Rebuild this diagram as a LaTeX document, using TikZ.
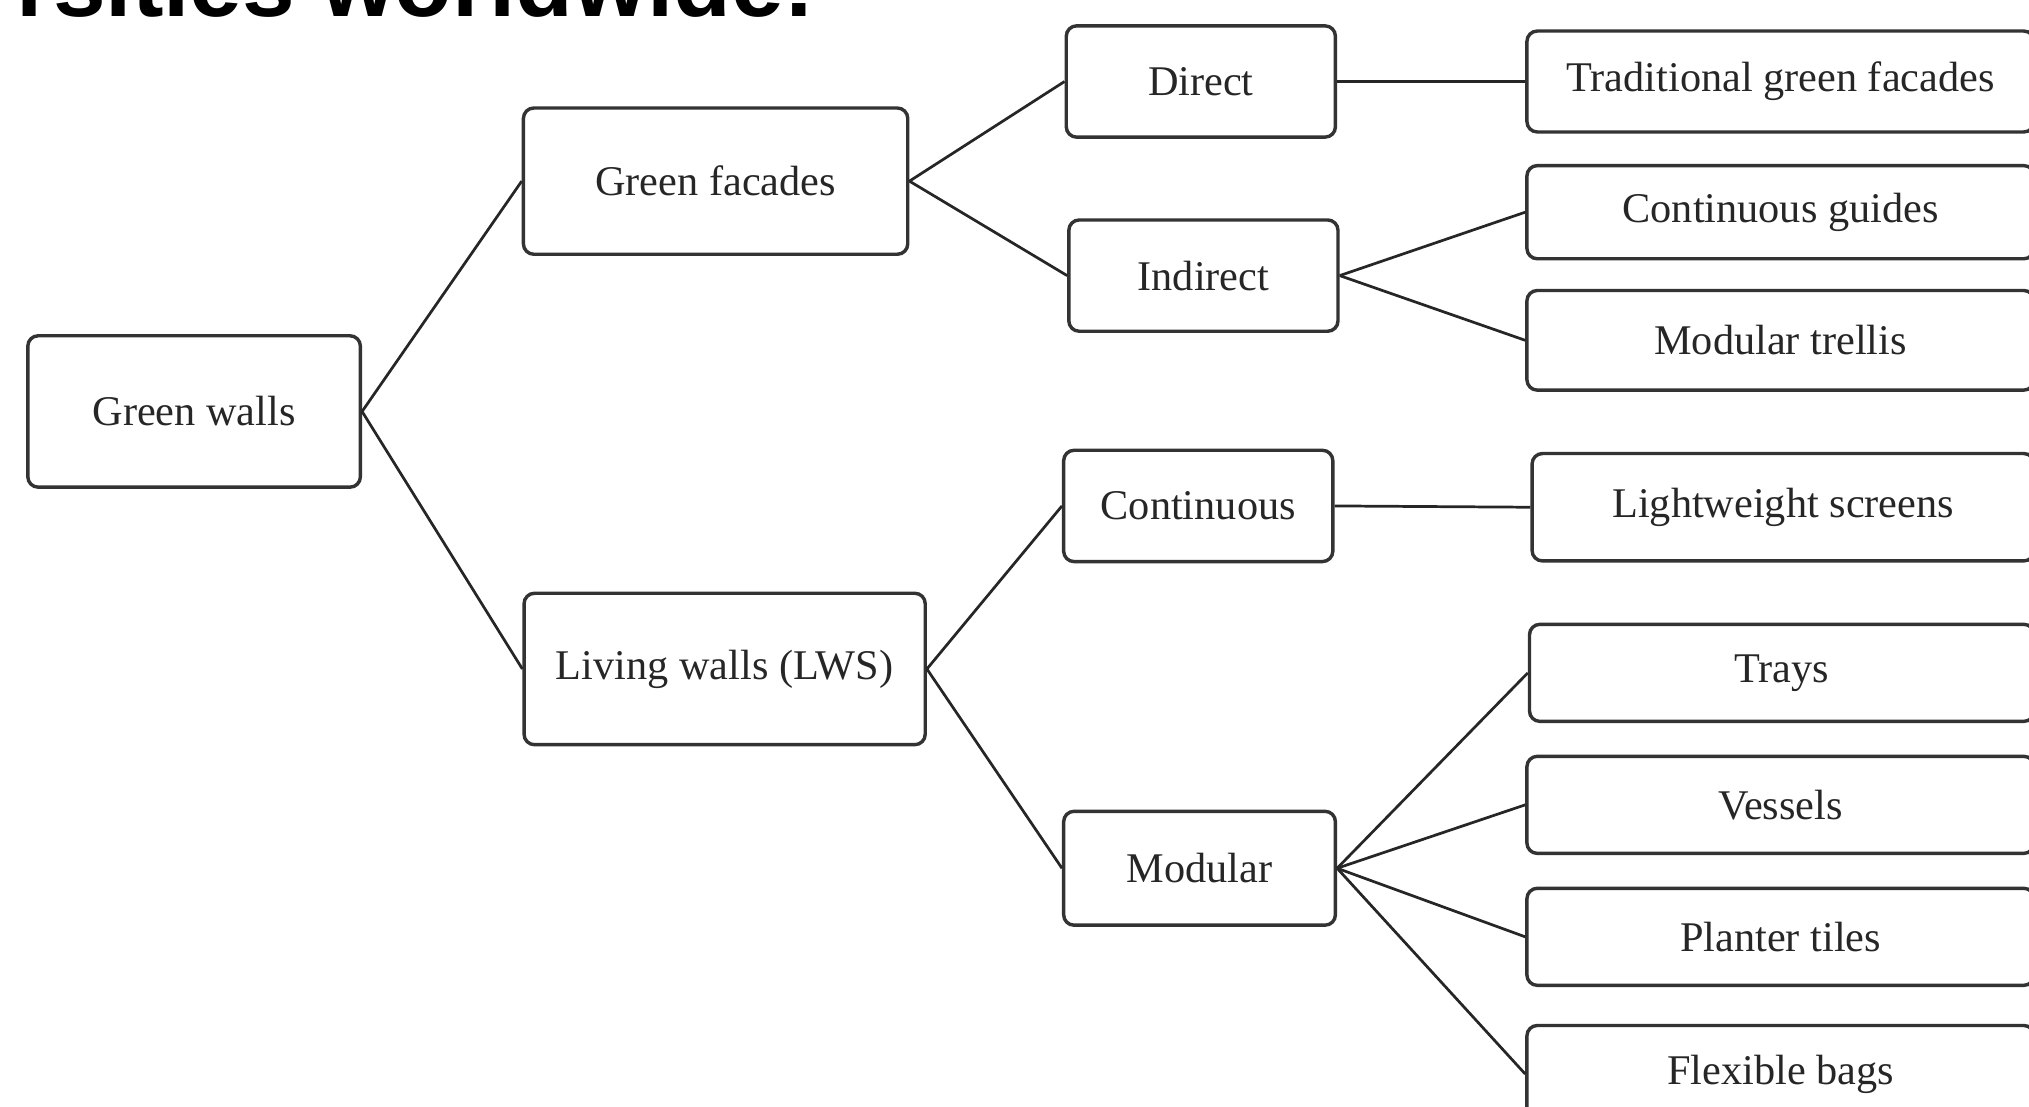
\documentclass[tikz,border=0pt]{standalone}
\usepackage{fontspec}
\setmainfont{Liberation Serif}
\newfontfamily\headfont{Liberation Sans}
\begin{document}
\begin{tikzpicture}[x=0.1mm,y=-0.1mm,
    box/.style={draw=black!80,line width=0.75pt,rounded corners=0.8mm,inner sep=0pt,
      align=center,text=black!85,font=\fontsize{9.3}{11}\selectfont},
    rootbox/.style={box,minimum width=25.7mm,minimum height=11.7mm},
    typebox/.style={box,minimum width=30mm,minimum height=11.5mm},
    kindbox/.style={box,minimum width=20.8mm,minimum height=8.6mm},
    leafbox/.style={box,minimum width=39.2mm,minimum height=7.6mm},
    link/.style={draw=black!85,line width=0.6pt},
  ]
    \useasboundingbox (0,0) rectangle (1568,855);
    \clip (0,0) rectangle (1568,855);

    % heading, cut off by the page
    \node [anchor=base west,inner sep=0pt,font=\headfont\bfseries\fontsize{20.8}{21}\selectfont,name=head] at (12,12.5) {rsities worldwide:};

    % root and first split
    \node [rootbox] (gw) at (150,318) {Green walls};
    \node [typebox,minimum width=29.7mm,minimum height=11.3mm] (gf) at (553,140) {Green facades};
    \node [typebox,minimum width=31mm,minimum height=11.7mm] (lw) at (560,517) {Living walls (LWS)};
    \draw [link] (gw.east) -- (gf.west);
    \draw [link] (gw.east) -- (lw.west);

    % green facades
    \node [kindbox] (di) at (928,63) {Direct};
    \node [kindbox] (in) at (930,213) {Indirect};
    \draw [link] (gf.east) -- (di.west);
    \draw [link] (gf.east) -- (in.west);
    \node [leafbox,minimum height=7.8mm] (tg) at (1376,63) {Traditional green facades};
    \node [leafbox,minimum height=7.2mm] (cg) at (1376,164) {Continuous guides};
    \node [leafbox,minimum height=7.7mm] (mt) at (1376,263) {Modular trellis};
    \draw [link] (di.east) -- (tg.west);
    \draw [link] (in.east) -- (cg.west);
    \draw [link] (in.east) -- (mt.west);

    % living walls
    \node [kindbox] (co) at (926,391) {Continuous};
    \node [kindbox,minimum width=21mm,minimum height=8.8mm] (mo) at (927,671) {Modular};
    \draw [link] (lw.east) -- (co.west);
    \draw [link] (lw.east) -- (mo.west);
    \node [leafbox,minimum width=38.8mm,minimum height=8.3mm] (ls) at (1378,392) {Lightweight screens};
    \node [leafbox,minimum width=39mm,minimum height=7.5mm] (tr) at (1377,520) {Trays};
    \node [leafbox,minimum height=7.5mm] (ve) at (1376,622) {Vessels};
    \node [leafbox,minimum height=7.5mm] (pt) at (1376,724) {Planter tiles};
    \node [leafbox,minimum height=7.5mm] (fb) at (1376,830) {Flexible bags};
    \draw [link] (co.east) -- (ls.west);
    \foreach \leaf in {tr,ve,pt,fb}
      \draw [link] (mo.east) -- (\leaf.west);
\end{tikzpicture}
\end{document}
